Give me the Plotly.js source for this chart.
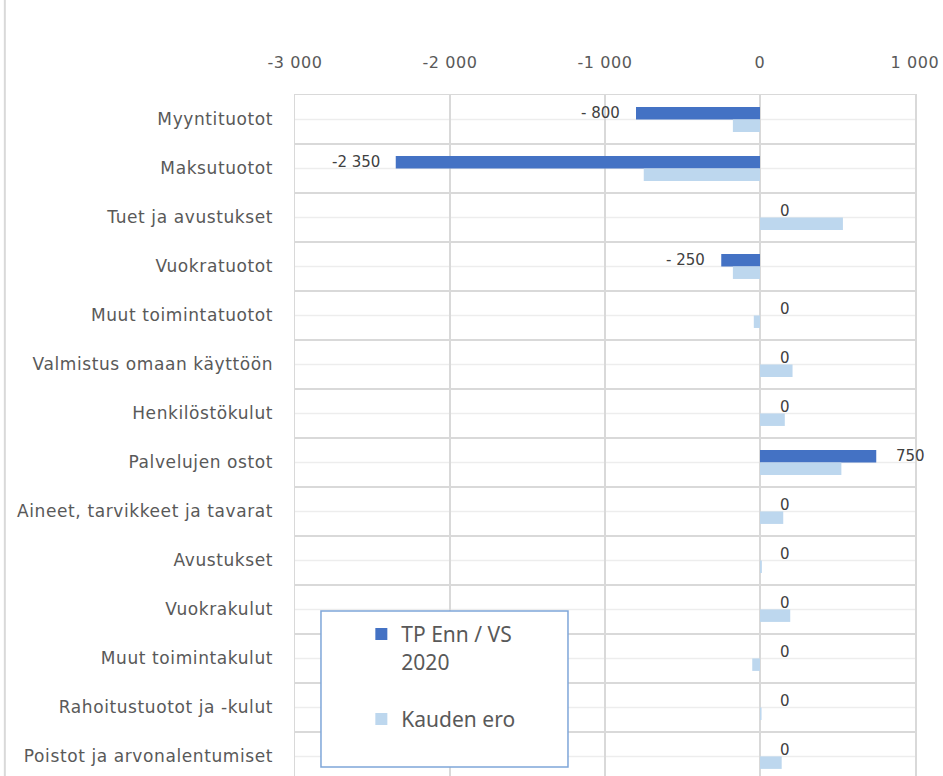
<!DOCTYPE html>
<html>
<head>
<meta charset="utf-8">
<script src="https://cdn.plot.ly/plotly-3.0.1.min.js"></script>
<style>
  html, body { margin: 0; padding: 0; background: #fff; }
  #chart { width: 943px; height: 776px; }
  .ytick text, .xtick text { letter-spacing: 0.6px; }
</style>
</head>
<body>
<div id="chart"></div>
<script>
const categories = [
  'Myyntituotot',
  'Maksutuotot',
  'Tuet ja avustukset',
  'Vuokratuotot',
  'Muut toimintatuotot',
  'Valmistus omaan käyttöön',
  'Henkilöstökulut',
  'Palvelujen ostot',
  'Aineet, tarvikkeet ja tavarat',
  'Avustukset',
  'Vuokrakulut',
  'Muut toimintakulut',
  'Rahoitustuotot ja -kulut',
  'Poistot ja arvonalentumiset'
];
const tpEnn = [-800, -2350, 0, -250, 0, 0, 0, 750, 0, 0, 0, 0, 0, 0];
const kaudenEro = [-175, -750, 535, -175, -40, 210, 160, 525, 150, 12, 195, -50, 10, 140];
const seriesNames = ['TP Enn / VS<br>2020<br>&nbsp;', 'Kauden ero'];
const xTickVals = [-3000, -2000, -1000, 0, 1000];
const xTickText = ['-3 000', '-2 000', '-1 000', '0', '1 000'];

function groupSpace(n) {
  return String(n).replace(/\B(?=(\d{3})+(?!\d))/g, ' ');
}
function fmt(v) {
  if (v < 0 && v > -1000) return '- ' + (-v);
  return (v < 0 ? '-' : '') + groupSpace(Math.abs(v));
}

const textColor = '#595959';
const font = 'DejaVu Sans, Noto Sans, sans-serif';

const traces = [
  {
    type: 'bar', orientation: 'h', name: seriesNames[0],
    y: categories, x: tpEnn,
    marker: { color: '#4472c4' },
    hoverinfo: 'x+y'
  },
  {
    type: 'bar', orientation: 'h', name: seriesNames[1],
    y: categories, x: kaudenEro,
    marker: { color: '#bdd7ee' },
    hoverinfo: 'x+y'
  }
];

const bargap = 0.49;
const darkOffset = -(1 - bargap) / 4;

const annotations = tpEnn.map((v, i) => ({
  x: v, y: i + darkOffset, xref: 'x', yref: 'y',
  text: fmt(v), showarrow: false,
  xanchor: v < 0 ? 'right' : 'left',
  xshift: v < 0 ? -14 : 18,
  yanchor: 'middle',
  font: { family: font, size: 15, color: '#404040' }
}));

// light centre lines of each category band
const centreLines = categories.map((c, i) => ({
  type: 'line', xref: 'paper', yref: 'y', layer: 'below',
  x0: 0, x1: 1, y0: i, y1: i,
  line: { color: '#ededed', width: 1.5 }
}));

const layout = {
  width: 943, height: 776,
  margin: { l: 295, r: 28, t: 95, b: 0 },
  paper_bgcolor: '#ffffff', plot_bgcolor: '#ffffff',
  font: { family: font, color: textColor, size: 16 },
  barmode: 'group', bargap: bargap, bargroupgap: 0,
  showlegend: true,
  legend: {
    x: 0.107, y: 0.238, xanchor: 'left', yanchor: 'top',
    bgcolor: 'rgba(0,0,0,0)', borderwidth: 0,
    font: { family: 'Noto Sans, DejaVu Sans, sans-serif', size: 21, color: textColor },
    traceorder: 'normal', valign: 'top'
  },
  xaxis: {
    side: 'top', range: [-3000, 1000],
    tickvals: xTickVals, ticktext: xTickText,
    showgrid: true, gridcolor: '#d9d9d9', gridwidth: 1.5,
    zeroline: false, showline: true, linecolor: '#d9d9d9', linewidth: 1.5,
    ticks: '',
    ticklabelstandoff: 19,
    tickfont: { family: font, size: 16, color: textColor },
    fixedrange: true
  },
  yaxis: {
    type: 'category', range: [13.4, -0.5],
    tickson: 'boundaries', ticks: '',
    showgrid: true, gridcolor: '#d9d9d9', gridwidth: 1.5,
    zeroline: false, showline: true, mirror: true,
    linecolor: '#d9d9d9', linewidth: 1.5,
    ticklabelstandoff: 17,
    tickfont: { family: font, size: 17, color: textColor },
    fixedrange: true
  },
  annotations: annotations,
  shapes: centreLines.concat([
    {
      type: 'line', xref: 'paper', yref: 'paper',
      x0: -0.468, x1: -0.468, y0: -0.01, y1: 1.15,
      line: { color: '#d9d9d9', width: 2 }
    },
    {
      type: 'rect', xref: 'paper', yref: 'paper', layer: 'above',
      x0: 0.0419, x1: 0.4403, y0: 0.0132, y1: 0.2423,
      fillcolor: '#ffffff',
      line: { color: '#7fa6d9', width: 1.5 }
    }
  ])
};

Plotly.newPlot('chart', traces, layout, { displayModeBar: false, staticPlot: true });
</script>
</body>
</html>
